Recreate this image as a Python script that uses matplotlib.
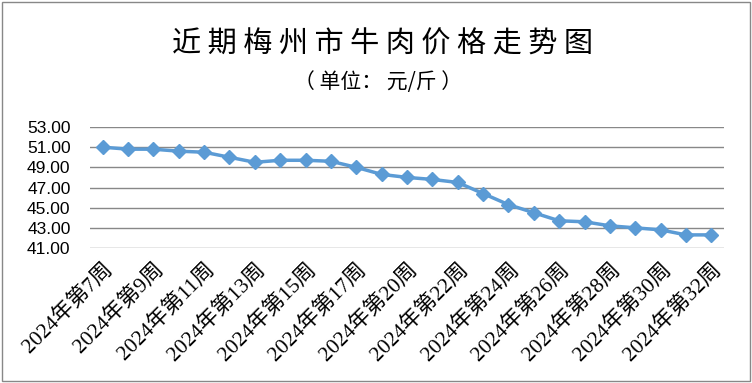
import matplotlib
matplotlib.use("Agg")
import matplotlib.pyplot as plt
from matplotlib.patches import Rectangle

# weekly beef price, yuan per jin
weeks = [7, 8, 9, 10, 11, 12, 13, 14, 15, 16, 17, 18, 20, 21, 22, 23, 24, 25, 26,
         27, 28, 29, 30, 31, 32]
prices = [51.0, 50.8, 50.8, 50.6, 50.5, 50.0, 49.5, 49.7, 49.7, 49.6, 49.0, 48.3,
          48.0, 47.8, 47.5, 46.4, 45.3, 44.5, 43.7, 43.6, 43.2, 43.0, 42.8, 42.3, 42.3]
labels = [f"2024年第{w}周" for w in weeks]
yticks = [41, 43, 45, 47, 49, 51, 53]

cjk = ["Noto Sans CJK SC", "DejaVu Sans"]
serif_cjk = ["Liberation Serif", "Noto Sans CJK SC"]

fig = plt.figure(figsize=(7.52, 3.83), dpi=100)
ax = fig.add_axes([90 / 752, 1 - 248 / 383, 634 / 752, 121 / 383])

x = list(range(len(weeks)))
ax.plot(x, prices, color="#5B9BD5", lw=2.5, marker="D", ms=7,
        markeredgecolor="#5B9BD5", zorder=3)

ax.set_xlim(-0.5, len(weeks) - 0.5)
ax.set_ylim(41, 53)
ax.set_yticks(yticks)
ax.set_yticklabels([f"{v:.2f}" for v in yticks], fontsize=12.5,
                   family=["Liberation Sans"])
ax.tick_params(axis="y", length=0, pad=14)
ax.set_xticks(x[::2])
ax.set_xticklabels(labels[::2], rotation=45, ha="right", rotation_mode="anchor",
                   fontsize=15.5, family=serif_cjk, fontweight="light")
ax.tick_params(axis="x", length=0, pad=8)
ax.grid(axis="y", color="#888888", lw=1)
ax.set_axisbelow(True)
for s in ax.spines.values():
    s.set_visible(False)

fig.text(382 / 752, 1 - 45 / 383, "近 期 梅 州 市 牛 肉 价 格 走 势 图", ha="center",
         va="center", fontsize=21, family=cjk, fontweight="light")
fig.text(378 / 752, 1 - 82 / 383, "（ 单位： 元/斤 ）", ha="center", va="center",
         fontsize=15, family=cjk, fontweight="light")

fig.patches.append(Rectangle((0.002, 0.004), 0.995, 0.992, transform=fig.transFigure,
                             fill=False, edgecolor="#888888", lw=1))

fig.savefig("out.png", dpi=100)
